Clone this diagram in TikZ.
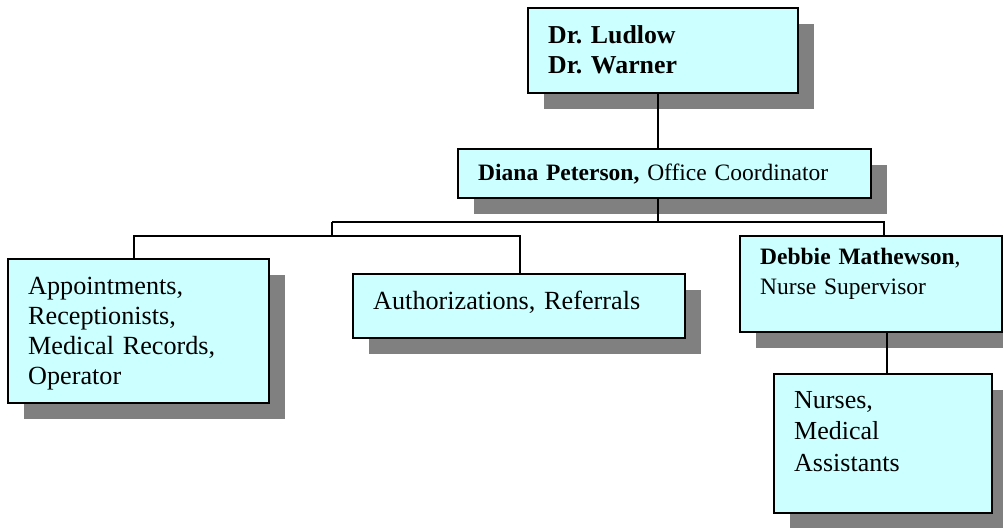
\documentclass[tikz,border=0pt]{standalone}
\usepackage{fontspec}
\setmainfont{Liberation Serif}
\frenchspacing
\usetikzlibrary{shadows}
\definecolor{boxfill}{HTML}{CCFFFF}
\definecolor{shadowgray}{HTML}{808080}
\begin{document}
\begin{tikzpicture}[x=1pt,y=-1pt,
  orgbox/.style={draw=black, line width=2pt, fill=boxfill, rectangle,
    inner sep=0pt, anchor=north west,
    general shadow={fill=shadowgray, shadow xshift=16pt, shadow yshift=-16pt}},
  boxtext/.style={inner sep=0pt, anchor=base west, text width=420pt, align=left,
    execute at begin node=\frenchspacing},
  link/.style={draw=black, line width=1.6pt}]
\useasboundingbox (0,0) rectangle (1003,527);
\clip (0,0) rectangle (1003,527);

% boxes
\node[orgbox, minimum width=270pt, minimum height=85pt]  (top)    at (527,7)   {};
\node[orgbox, minimum width=413pt, minimum height=49pt]  (diana)  at (457,148) {};
\node[orgbox, minimum width=261pt, minimum height=144pt] (front)  at (7,258)   {};
\node[orgbox, minimum width=332pt, minimum height=64pt]  (auth)   at (352,273) {};
\node[orgbox, minimum width=262pt, minimum height=96pt]  (debbie) at (739,235) {};
\node[orgbox, minimum width=218pt, minimum height=139pt] (nurses) at (773,373) {};

% texts
\node[boxtext, font={\fontsize{25.8}{30}\selectfont\bfseries}] (toptext) at (548,44)
  {Dr. Ludlow\\Dr. Warner};
\node[boxtext, font={\fontsize{23.5}{28}\selectfont}] (dianatext) at (478,180)
  {\textbf{Diana Peterson,} Office Coordinator};
\node[boxtext, font={\fontsize{26.2}{30}\selectfont}] (fronttext) at (28,294)
  {Appointments,\\Receptionists,\\Medical Records,\\Operator};
\node[boxtext, font={\fontsize{26.2}{30}\selectfont}] (authtext) at (373,309)
  {Authorizations, Referrals};
\node[boxtext, font={\fontsize{23.5}{30}\selectfont}] (debbietext) at (760,264)
  {\textbf{Debbie Mathewson},\\Nurse Supervisor};
\node[boxtext, font={\fontsize{26}{31.5}\selectfont}] (nursestext) at (794,408)
  {Nurses,\\Medical\\Assistants};

% junction points of the connector tree
\coordinate (jmain)  at (658,222);
\coordinate (jleft)  at (332,222);
\coordinate (jright) at (884,222);
\coordinate (jlow)   at (332,236);
\coordinate (jfront) at (134,236);
\coordinate (jauth)  at (520,236);
\coordinate (jnurse) at (887,0);

% connectors
\draw[link] (top.south -| jmain) -- (diana.north -| jmain);
\draw[link] (diana.south -| jmain) -- (jmain);
\draw[link] (jleft) -- (jright) -- (debbie.north -| jright);
\draw[link] (jleft) -- (jlow);
\draw[link] (front.north -| jfront) -- (jfront) -- (jauth) -- (auth.north -| jauth);
\draw[link] (debbie.south -| jnurse) -- (nurses.north -| jnurse);
\end{tikzpicture}
\end{document}
